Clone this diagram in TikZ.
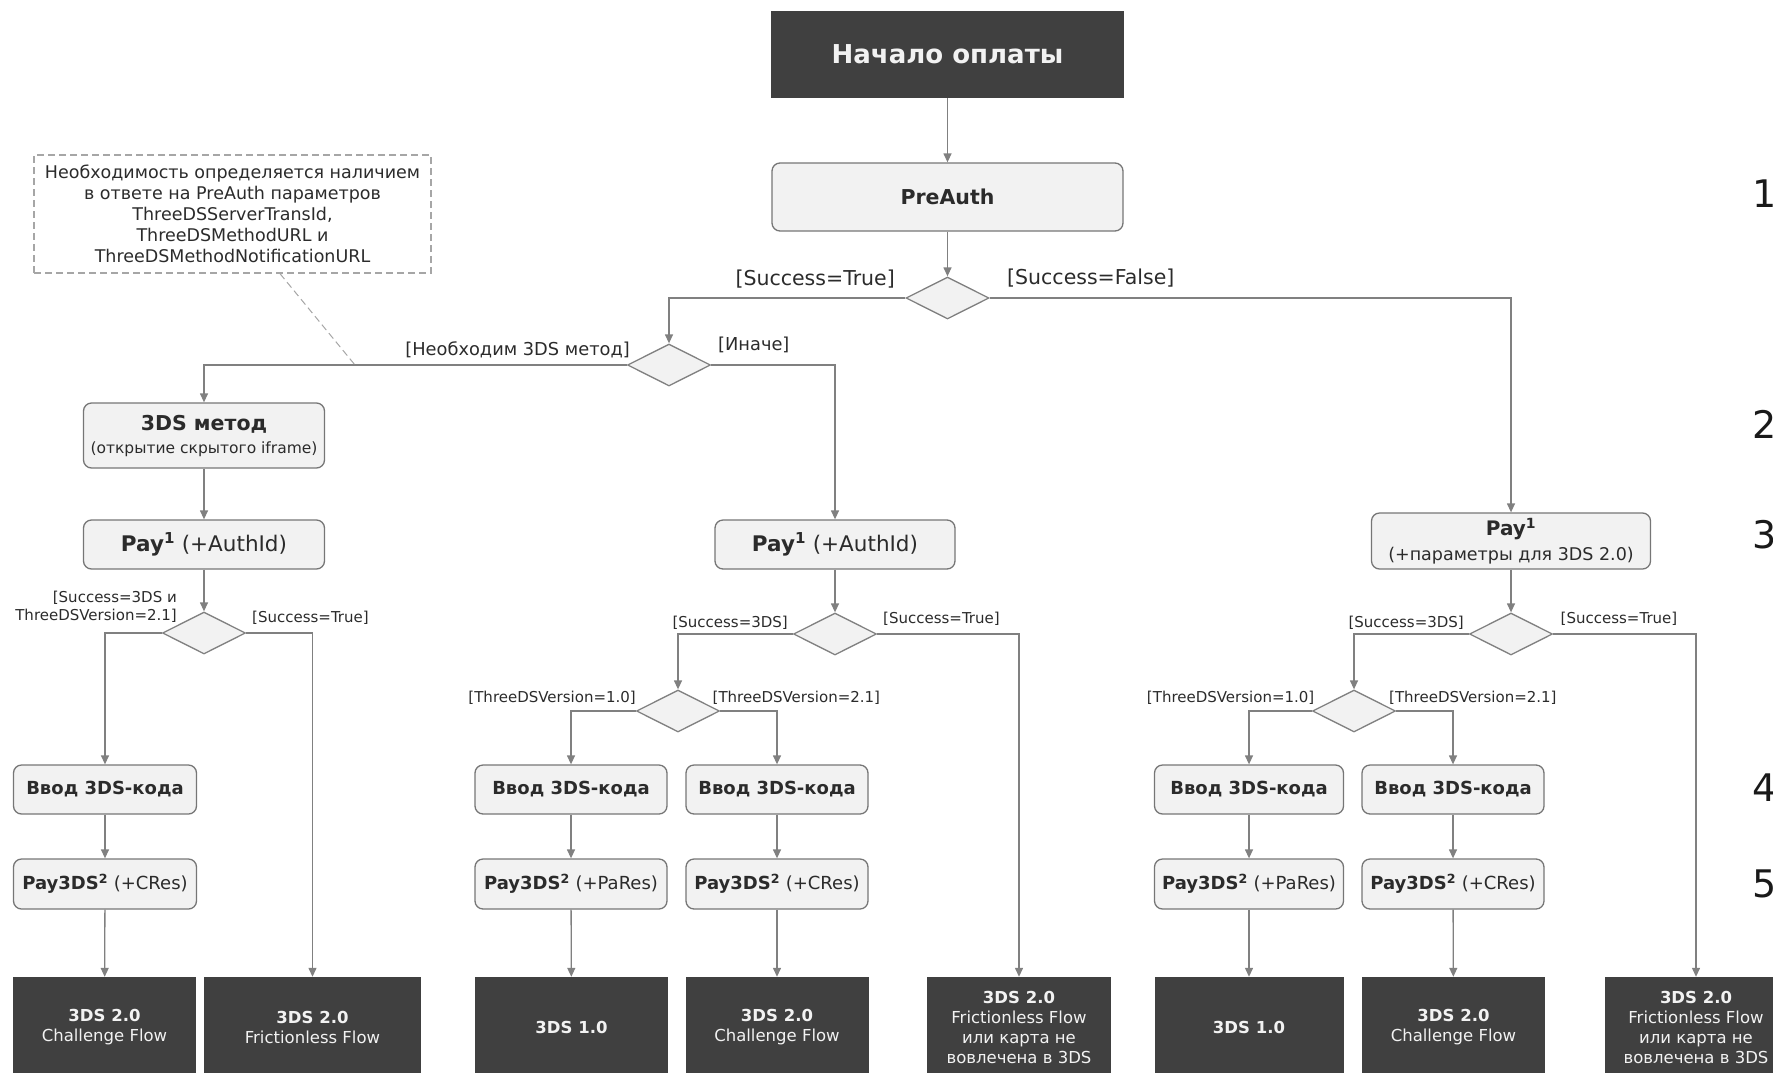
\documentclass[tikz,border=0pt]{standalone}
\usepackage{fontspec}
\setmainfont{DejaVu Sans}
\usetikzlibrary{shapes.geometric,arrows.meta}

\definecolor{darkfill}{HTML}{404040}
\definecolor{lightfill}{HTML}{F2F2F2}
\definecolor{boxline}{HTML}{767676}
\definecolor{flowline}{HTML}{808080}
\definecolor{inktext}{HTML}{2B2B2B}
\definecolor{notegray}{HTML}{A6A6A6}

\newcommand{\fsz}[2]{\fontsize{#1}{#2}\selectfont}

\tikzset{
	darkbox/.style={rectangle,fill=darkfill,text=white!95!black,align=center,inner sep=0pt,font=\fsz{16.5}{20}},
	stepbox/.style={rectangle,rounded corners=8pt,fill=lightfill,draw=boxline,line width=1.3pt,text=inktext,align=center,inner sep=0pt},
	decision/.style={diamond,fill=lightfill,draw=flowline,line width=1.3pt,minimum width=83pt,minimum height=42pt,inner sep=0pt},
	flow/.style={->,draw=flowline,line width=1.3pt},
	guard/.style={text=inktext,inner sep=0pt,font=\fsz{20.5}{24}},
	smallguard/.style={text=inktext,inner sep=0pt,align=right,font=\fsz{15}{18}},
	remark/.style={rectangle,draw=notegray,dash pattern=on 7pt off 4pt,line width=1.3pt,text=inktext,align=center,inner sep=0pt,font=\fsz{17.5}{21}},
	notelink/.style={draw=notegray,dash pattern=on 7pt off 4pt,line width=1pt},
	sidemark/.style={anchor=west,inner sep=0pt,text=black!90,font=\fsz{38}{40}}
}

\begin{document}
\begin{tikzpicture}[x=1pt,y=-1pt,>={Triangle[length=9pt,width=8pt]}]
	\path[use as bounding box] (0,0) rectangle (1773,1072);
	\clip (0,0) rectangle (1773,1072);

	\node[darkbox,minimum width=353pt,minimum height=87pt,font=\fsz{26}{30}\bfseries] (start) at (947.5,54.5) {Начало оплаты};
	\node[stepbox,minimum width=351pt,minimum height=68pt,font=\fsz{20.5}{24}\bfseries] (preauth) at (947.5,197) {PreAuth};
	\node[decision] (d1) at (947.5,298) {};
	\node[decision] (d2) at (669,365) {};

	\node[remark,minimum width=397pt,minimum height=118pt] (note) at (232.5,214)
		{Необходимость определяется наличием\\в ответе на PreAuth параметров\\ThreeDSServerTransId,\\ThreeDSMethodURL и\\ThreeDSMethodNotificationURL};
	\coordinate (notehook) at (355,365);

	% left column
	\node[stepbox,minimum width=241pt,minimum height=65pt,font=\fsz{15.5}{23}] (method) at (204,435.5)
		{{\fsz{20.5}{23}\bfseries 3DS метод}\\(открытие скрытого iframe)};
	\node[stepbox,minimum width=241pt,minimum height=49pt,font=\fsz{21.5}{25}] (payL) at (204,544.5) {\textbf{Pay\textsuperscript{1}} (+AuthId)};
	\node[decision] (d3) at (204,633) {};
	\node[stepbox,minimum width=183pt,minimum height=49pt,font=\fsz{18}{22}\bfseries] (codeL) at (105,789.5) {Ввод 3DS-кода};
	\node[stepbox,minimum width=183pt,minimum height=50pt,font=\fsz{18}{22}] (pay3dsL) at (105,884) {\textbf{Pay3DS\textsuperscript{2}} (+CRes)};
	\node[darkbox,minimum width=183pt,minimum height=100pt] (endL1) at (104.5,1027) {\textbf{3DS 2.0}\\Challenge Flow};
	\node[darkbox,minimum width=217pt,minimum height=100pt] (endL2) at (312.5,1027) {\textbf{3DS 2.0}\\Frictionless Flow};

	% middle column
	\node[stepbox,minimum width=240pt,minimum height=49pt,font=\fsz{21.5}{25}] (payM) at (835,544.5) {\textbf{Pay\textsuperscript{1}} (+AuthId)};
	\node[decision] (d4) at (835,634) {};
	\node[decision] (d5) at (678,711) {};
	\node[stepbox,minimum width=192pt,minimum height=49pt,font=\fsz{18}{22}\bfseries] (codeM1) at (571,789.5) {Ввод 3DS-кода};
	\node[stepbox,minimum width=182pt,minimum height=49pt,font=\fsz{18}{22}\bfseries] (codeM2) at (777,789.5) {Ввод 3DS-кода};
	\node[stepbox,minimum width=192pt,minimum height=50pt,font=\fsz{18}{22}] (pay3dsM1) at (571,884) {\textbf{Pay3DS\textsuperscript{2}} (+PaRes)};
	\node[stepbox,minimum width=182pt,minimum height=50pt,font=\fsz{18}{22}] (pay3dsM2) at (777,884) {\textbf{Pay3DS\textsuperscript{2}} (+CRes)};
	\node[darkbox,minimum width=193pt,minimum height=100pt] (endM1) at (571.5,1027) {\textbf{3DS 1.0}};
	\node[darkbox,minimum width=183pt,minimum height=100pt] (endM2) at (777,1027) {\textbf{3DS 2.0}\\Challenge Flow};
	\node[darkbox,minimum width=184pt,minimum height=100pt] (endM3) at (1019,1027) {\textbf{3DS 2.0}\\Frictionless Flow\\или карта не\\вовлечена в 3DS};

	% right column
	\node[stepbox,minimum width=279pt,minimum height=56pt,font=\fsz{17.5}{25}] (payR) at (1511,541) {\textbf{\fsz{20}{25}Pay\textsuperscript{1}}\\(+параметры для 3DS 2.0)};
	\node[decision] (d6) at (1511,634) {};
	\node[decision] (d7) at (1354,711) {};
	\node[stepbox,minimum width=189pt,minimum height=49pt,font=\fsz{18}{22}\bfseries] (codeR1) at (1249,789.5) {Ввод 3DS-кода};
	\node[stepbox,minimum width=182pt,minimum height=49pt,font=\fsz{18}{22}\bfseries] (codeR2) at (1453,789.5) {Ввод 3DS-кода};
	\node[stepbox,minimum width=189pt,minimum height=50pt,font=\fsz{18}{22}] (pay3dsR1) at (1249,884) {\textbf{Pay3DS\textsuperscript{2}} (+PaRes)};
	\node[stepbox,minimum width=182pt,minimum height=50pt,font=\fsz{18}{22}] (pay3dsR2) at (1453,884) {\textbf{Pay3DS\textsuperscript{2}} (+CRes)};
	\node[darkbox,minimum width=189pt,minimum height=100pt] (endR1) at (1249,1027) {\textbf{3DS 1.0}};
	\node[darkbox,minimum width=183pt,minimum height=100pt] (endR2) at (1453.5,1027) {\textbf{3DS 2.0}\\Challenge Flow};
	\node[darkbox,minimum width=183pt,minimum height=100pt] (endR3) at (1696,1027) {\textbf{3DS 2.0}\\Frictionless Flow\\или карта не\\вовлечена в 3DS};

	\foreach \n/\y in {1/194,2/424,3/535,4/788,5/884}
		\node[sidemark] (mark\n) at (1752,\y) {\n};

	% guards
	\node[guard,anchor=east] (g1) at (895,279) {[Success=True]};
	\node[guard,anchor=west] (g2) at (1007,278) {[Success=False]};
	\node[guard,anchor=east,font=\fsz{17.8}{21}] (g3) at (630,350) {[Необходим 3DS метод]};
	\node[guard,anchor=west,font=\fsz{17.8}{21}] (g4) at (718,345) {[Иначе]};
	\node[smallguard,anchor=east] (g5) at (177,607) {[Success=3DS и\\ThreeDSVersion=2.1]};
	\node[smallguard,anchor=west] (g6) at (252,618) {[Success=True]};
	\node[smallguard,anchor=east] (g7) at (788,623) {[Success=3DS]};
	\node[smallguard,anchor=west] (g8) at (883,619) {[Success=True]};
	\node[smallguard,anchor=east] (g9) at (636,698) {[ThreeDSVersion=1.0]};
	\node[smallguard,anchor=west] (g10) at (712.5,698) {[ThreeDSVersion=2.1]};
	\node[smallguard,anchor=east] (g11) at (1464,623) {[Success=3DS]};
	\node[smallguard,anchor=west] (g12) at (1560.5,619) {[Success=True]};
	\node[smallguard,anchor=east] (g13) at (1314.5,698) {[ThreeDSVersion=1.0]};
	\node[smallguard,anchor=west] (g14) at (1389,698) {[ThreeDSVersion=2.1]};

	% connectors
	\draw[flow] (start) -- (preauth);
	\draw[flow] (preauth) -- (d1);
	\draw[flow] (d1.west) -| (d2.north);
	\draw[flow] (d1.east) -| (payR.north);
	\draw[flow] (d2.west) -| (method.north);
	\draw[flow] (d2.east) -| (payM.north);
	\draw[notelink] ([xshift=47.5pt]note.south) -- (notehook);

	\draw[flow] (method) -- (payL);
	\draw[flow] (payL) -- (d3);
	\draw[flow] (d3.west) -| (codeL.north);
	\draw[flow] (d3.east) -| (endL2.north);
	\draw[flow] (codeL) -- (pay3dsL);
	\draw[flow] (pay3dsL) -- (endL1);

	\draw[flow] (payM) -- (d4);
	\draw[flow] (d4.west) -| (d5.north);
	\draw[flow] (d4.east) -| (endM3.north);
	\draw[flow] (d5.west) -| (codeM1.north);
	\draw[flow] (d5.east) -| (codeM2.north);
	\draw[flow] (codeM1) -- (pay3dsM1);
	\draw[flow] (pay3dsM1) -- (endM1);
	\draw[flow] (codeM2) -- (pay3dsM2);
	\draw[flow] (pay3dsM2) -- (endM2);

	\draw[flow] (payR) -- (d6);
	\draw[flow] (d6.west) -| (d7.north);
	\draw[flow] (d6.east) -| (endR3.north);
	\draw[flow] (d7.west) -| (codeR1.north);
	\draw[flow] (d7.east) -| (codeR2.north);
	\draw[flow] (codeR1) -- (pay3dsR1);
	\draw[flow] (pay3dsR1) -- (endR1);
	\draw[flow] (codeR2) -- (pay3dsR2);
	\draw[flow] (pay3dsR2) -- (endR2);
\end{tikzpicture}
\end{document}
